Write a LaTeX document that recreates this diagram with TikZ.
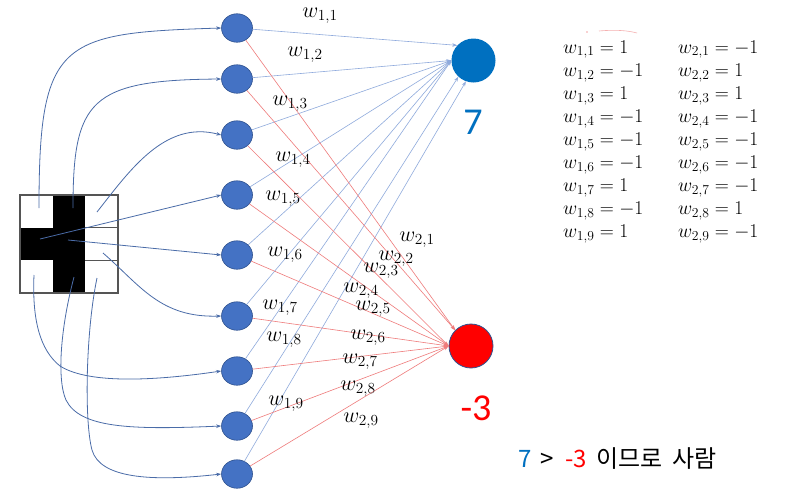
\RequirePackage{fix-cm}
\documentclass[tikz,border=0pt]{standalone}
\usepackage{fontspec}
\setmainfont{Carlito}
\newfontfamily\krfont{Noto Sans CJK KR}
\usetikzlibrary{arrows.meta,shapes.geometric}
\definecolor{inblue}{HTML}{4472C4}
\definecolor{inedge}{HTML}{2F528F}
\definecolor{outblue}{HTML}{0070C0}
\definecolor{blline}{HTML}{8FAADC}
\definecolor{rdline}{HTML}{EF7B7B}
\definecolor{curvecol}{HTML}{4A6CA8}
\definecolor{gridedge}{HTML}{555555}
\definecolor{outred}{HTML}{FF0000}
\tikzset{
 inode/.style={ellipse, fill=inblue, draw=inedge, line width=0.6pt, minimum width=31pt, minimum height=28.5pt, inner sep=0pt},
 onode/.style={circle, minimum size=44pt, inner sep=0pt},
 bl/.style={draw=blline, line width=0.6pt, -{Stealth[length=5pt,width=3.5pt]}},
 rl/.style={draw=rdline, line width=0.6pt, -{Stealth[length=5pt,width=3.5pt]}},
 cv/.style={draw=curvecol, line width=0.8pt, -{Stealth[length=5pt,width=3.5pt]}},
 wl/.style={inner sep=0pt, font=\fontsize{22}{22}\selectfont},
 tb/.style={inner sep=0pt, anchor=base west, font=\fontsize{19.5}{19.5}\selectfont},
 bigv/.style={inner sep=0pt, font=\fontsize{38}{38}\selectfont},
 res/.style={inner sep=0pt, anchor=base west, font=\krfont\fontsize{24}{24}\selectfont},
}
\begin{document}
\begin{tikzpicture}[x=1pt,y=-1pt]
\useasboundingbox[fill=white] (0,0) rectangle (791,491);
% input grid
\fill[white] (20,195) rectangle (118,293);
\fill[black] (52.7,195) rectangle (85.3,293);
\fill[black] (20,227.7) rectangle (85.3,260.3);
\draw[gridedge, line width=1.1pt] (85.3,227.7) -- (118,227.7);
\draw[gridedge, line width=1.1pt] (85.3,260.3) -- (118,260.3);
\draw[gridedge, line width=1.1pt] (20,195) rectangle (118,293);
\coordinate (c1) at (39,208);
\coordinate (c2) at (73,208);
\coordinate (c3) at (97,212);
\coordinate (c4) at (40,239);
\coordinate (c5) at (68,240);
\coordinate (c6) at (103,253);
\coordinate (c7) at (34,275);
\coordinate (c8) at (74,277);
\coordinate (c9) at (97,278);
% output nodes
\node[onode, fill=outblue] (o1) at (473.5,60.5) {};
\node[onode, fill=outred, draw=inedge, line width=0.8pt] (o2) at (471,346) {};
% input nodes
\foreach \k/\y in {1/28,2/79,3/135,4/195,5/255,6/316,7/371,8/426,9/474}
  \node[inode] (i\k) at (237,\y) {};
% connections to output 1
\draw[bl] (i1) -- (o1.137);
\foreach \k in {2,...,7} \draw[bl] (i\k) -- (o1.west);
\draw[bl] (i8) -- (o1.227);
\draw[bl] (i9) -- (o1.250);
% connections to output 2
\draw[rl] (i1) -- (o2.135);
\draw[rl] (i2) -- (o2.135);
\foreach \k in {3,...,9} \draw[rl] (i\k) -- (o2.west);
% curves from the grid
\draw[cv] (c1) .. controls (39,40) and (60,33) .. (i1.west);
\draw[cv] (c2) .. controls (73,100) and (90,80) .. (i2.west);
\draw[cv] (c3) .. controls (130,170) and (165,120) .. (i3.west);
\draw[cv] (c4) -- (i4.west);
\draw[cv] (c5) -- (i5.west);
\draw[cv] (c6) .. controls (140,285) and (160,318) .. (i6.west);
\draw[cv] (c7) .. controls (32,320) and (40,350) .. (60,366) .. controls (90,385) and (160,380) .. (i7.west);
\draw[cv] (c8) .. controls (60,330) and (57,380) .. (66,400) .. controls (80,428) and (130,430) .. (i8.west);
\draw[cv] (c9) .. controls (86,330) and (84,420) .. (92,450) .. controls (100,478) and (150,482) .. (i9.west);
% weight labels
\node[wl] (l11) at (320,16) {$w_{1,1}$};
\node[wl] (l12) at (305,55) {$w_{1,2}$};
\node[wl] (l13) at (290,104) {$w_{1,3}$};
\node[wl] (l14) at (293,160) {$w_{1,4}$};
\node[wl] (l15) at (283,199) {$w_{1,5}$};
\node[wl] (l16) at (285,255) {$w_{1,6}$};
\node[wl] (l17) at (280,308) {$w_{1,7}$};
\node[wl] (l18) at (284,340) {$w_{1,8}$};
\node[wl] (l19) at (286,404) {$w_{1,9}$};
\node[wl] (l21) at (417,240) {$w_{2,1}$};
\node[wl] (l22) at (396,259) {$w_{2,2}$};
\node[wl] (l23) at (381,271) {$w_{2,3}$};
\node[wl] (l24) at (361,290.5) {$w_{2,4}$};
\node[wl] (l25) at (373,309) {$w_{2,5}$};
\node[wl] (l26) at (368,338) {$w_{2,6}$};
\node[wl] (l27) at (360,362) {$w_{2,7}$};
\node[wl] (l28) at (358,389) {$w_{2,8}$};
\node[wl] (l29) at (361,421) {$w_{2,9}$};
% output values
\node[bigv, text=outblue] (v1) at (473,122) {7};
\node[bigv, text=outred] (v2) at (476,408) {-3};
% weight table
\foreach \k/\a/\b [evaluate=\k as \yy using 53+23.1*(\k-1)] in
  {1/1/-1, 2/-1/1, 3/1/1, 4/-1/-1, 5/-1/-1, 6/-1/-1, 7/1/-1, 8/-1/1, 9/1/-1} {
  \node[tb] (ta\k) at (563,\yy) {$w_{1,\k} = \a$};
  \node[tb] (tb\k) at (678,\yy) {$w_{2,\k} = \b$};
}
% stray red pen mark
\fill[rdline!70] (587,32) circle (0.9pt);
\draw[rdline!60, line width=0.6pt] (599,31) .. controls (615,29.5) and (628,30.5) .. (637,33);
% conclusion
\node[res, text=outblue] (r1) at (518,467) {7};
\node[res] (r2) at (540,467) {>};
\node[res, text=outred] (r3) at (565,467) {-3};
\node[res] (r4) at (596,467) {이므로};
\node[res] (r5) at (672,467) {사람};
\end{tikzpicture}
\end{document}
